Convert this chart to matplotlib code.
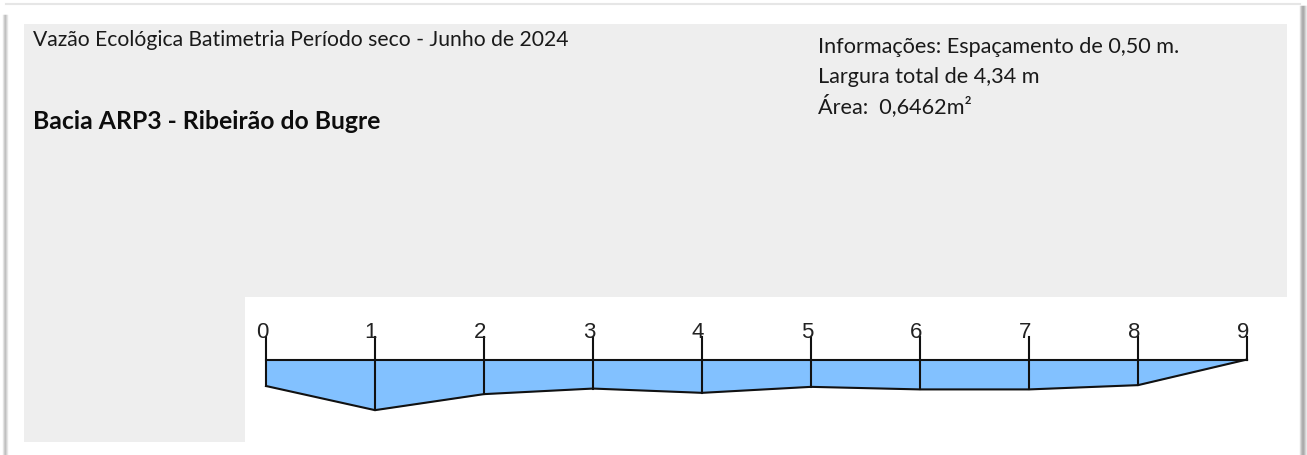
import matplotlib as mpl
mpl.use('Agg')
import matplotlib.pyplot as plt
from matplotlib.patches import Rectangle

# stations along the section and measured depths (m)
stations = [0, 1, 2, 3, 4, 5, 6, 7, 8, 9]
depths = [0.124, 0.237, 0.162, 0.136, 0.156, 0.128, 0.140, 0.140, 0.120, 0.0]
station_labels = ['0', '1', '2', '3', '4', '5', '6', '7', '8', '9']

title = 'Vazão Ecológica Batimetria Período seco - Junho de 2024'
subtitle = 'Bacia ARP3 - Ribeirão do Bugre'
info_lines = ['Informações: Espaçamento de 0,50 m.',
              'Largura total de 4,34 m',
              'Área:  0,6462m²']

W, H = 1307, 456
fig = plt.figure(figsize=(W / 100, H / 100), dpi=100)
fig.patch.set_facecolor('white')

# background in pixel coordinates
bg = fig.add_axes([0, 0, 1, 1])
bg.set_xlim(0, W)
bg.set_ylim(H, 0)
bg.axis('off')

grey = '#eeeeee'
bg.add_patch(Rectangle((24, 25), 1287 - 24, 298 - 25, color=grey, lw=0))
bg.add_patch(Rectangle((24, 298), 245 - 24, 443 - 298, color=grey, lw=0))

# frame shadow
bg.plot([6, 1300], [5, 5], color='#e6e6e6', lw=1.5)
for off, c in [(3, '#e8e8e8'), (4, '#d0d0d0'), (5, '#bdbdbd'), (6, '#cfcfcf'), (7, '#e6e6e6')]:
    bg.plot([off, off], [16, H], color=c, lw=1)
for off, c in [(1300, '#e0e0e0'), (1301, '#c4c4c4'), (1302, '#b0b0b0'), (1303, '#a8a8a8'),
               (1304, '#b8b8b8'), (1305, '#d0d0d0'), (1306, '#e8e8e8')]:
    bg.plot([off, off], [7, H], color=c, lw=1)

font = ['Lato', 'DejaVu Sans']
bg.text(33, 46, title, fontsize=15.2, family=font, color='#1a1a1a', va='baseline')
bg.text(33, 129, subtitle, fontsize=17.8, family=font, weight='bold', color='#0d0d0d', va='baseline')
for i, line in enumerate(info_lines):
    bg.text(818, 53 + i * 30, line, fontsize=15.6, family=font, color='#1a1a1a', va='baseline')

# cross-section axes
x0, x1, y0, y1 = 245, 1287, 299, 443
ax = fig.add_axes([x0 / W, 1 - y1 / H, (x1 - x0) / W, (y1 - y0) / H])
ax.axis('off')
ppx = 109.0      # pixels per station
ppm = 213.7      # pixels per metre of depth
surf = 360.5
ax.set_xlim(0 - (266 - x0) / ppx, 9 + (x1 - 1247) / ppx)
ax.set_ylim((y1 - surf) / ppm, -(surf - y0) / ppm)

ax.fill_between(stations, 0, depths, color='#82c1ff', lw=0)
ax.plot(stations, depths, color='#111111', lw=1.5)
ax.plot([stations[0], stations[-1]], [0, 0], color='#111111', lw=1.5)
top = -(surf - 337.5) / ppm
for s, d, lab in zip(stations, depths, station_labels):
    ax.plot([s, s], [top, d], color='#111111', lw=1.5)
    ax.text(s - 4 / ppx, -(surf - 332.5) / ppm, lab, fontsize=16,
            family=['Liberation Sans', 'DejaVu Sans'], color='#222222',
            ha='center', va='center')

fig.savefig('out.png', dpi=100, facecolor='white')
